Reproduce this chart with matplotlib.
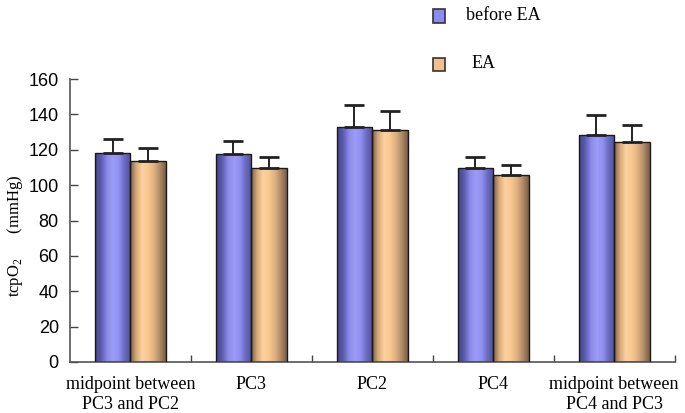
import numpy as np
import matplotlib
matplotlib.use("Agg")
import matplotlib.pyplot as plt
from matplotlib.colors import LinearSegmentedColormap
from matplotlib.patches import Rectangle

categories = ["midpoint between\nPC3 and PC2", "PC3", "PC2", "PC4",
              "midpoint between\nPC4 and PC3"]
before_ea = [118, 117.5, 133, 109.5, 128.5]
before_err = [8, 7.5, 12.5, 6.5, 11]
ea = [113.5, 109.5, 131, 105.5, 124.5]
ea_err = [7.5, 6.5, 11, 6, 9.5]

plt.rcParams["font.family"] = ["Liberation Serif", "DejaVu Serif"]

blue_cmap = LinearSegmentedColormap.from_list(
    "blue", ["#44448a", "#5c5cb0", "#8a8ae8", "#9c9cf8", "#9090f0", "#6a6ac0", "#50509a"])
orange_cmap = LinearSegmentedColormap.from_list(
    "orange", ["#7a6248", "#d8aa78", "#fdd0a0", "#f8c890", "#e0b080", "#b08c68", "#7a5e46"])
grad = np.linspace(0, 1, 64).reshape(1, -1)


def gradient_bars(ax, xs, heights, width, cmap):
    for x, h in zip(xs, heights):
        rect = Rectangle((x - width / 2, 0), width, h, facecolor="none",
                         edgecolor="#1a1a1a", linewidth=1.0, zorder=3)
        ax.add_patch(rect)
        im = ax.imshow(grad, cmap=cmap, aspect="auto", zorder=2,
                       extent=(x - width / 2, x + width / 2, 0, h))
        im.set_clip_path(rect)


fig = plt.figure(figsize=(6.85, 4.13), dpi=100)
ax = fig.add_axes([0.102, 0.1235, 0.883, 0.685])

x = np.arange(len(categories))
w = 0.295
gradient_bars(ax, x - w / 2, before_ea, w, blue_cmap)
gradient_bars(ax, x + w / 2, ea, w, orange_cmap)
ax.errorbar(x - w / 2, before_ea, yerr=[np.zeros(5), before_err], fmt="none",
            ecolor="#222222", elinewidth=1.4, capsize=7, capthick=2, zorder=4)
ax.errorbar(x + w / 2, ea, yerr=[np.zeros(5), ea_err], fmt="none",
            ecolor="#222222", elinewidth=1.4, capsize=7, capthick=2, zorder=4)

ax.set_xlim(-0.5, len(categories) - 0.5)
ax.set_ylim(0, 160)
ax.set_yticks(range(0, 161, 20))
ax.tick_params(axis="y", direction="in", length=6, width=1, labelsize=13,
               color="#444444", pad=8)
for lab in ax.get_yticklabels():
    lab.set_family("Liberation Sans")
ax.set_xticks(np.arange(0.5, len(categories) - 0.4, 1))
ax.set_xticklabels([])
ax.tick_params(axis="x", direction="in", length=5, width=1, color="#444444")
for xi, lab in zip(x, categories):
    ax.text(xi, -8, lab, ha="center", va="top", fontsize=13,
            linespacing=1.2)

for s in ["top", "right"]:
    ax.spines[s].set_visible(False)
for s in ["left", "bottom"]:
    ax.spines[s].set_color("#555555")
    ax.spines[s].set_linewidth(1.2)

fig.text(0.022, 0.43, r"tcpO$_{\mathregular{2}}$      (mmHg)", rotation=90,
         ha="center", va="center", fontsize=12)

# legend
fig.patches.append(Rectangle((0.632, 0.945), 0.018, 0.032,
                             transform=fig.transFigure, facecolor="#8c8cf0",
                             edgecolor="#333333", linewidth=1.2))
fig.text(0.68, 0.962, "before EA", ha="left", va="center", fontsize=13)
fig.patches.append(Rectangle((0.632, 0.827), 0.018, 0.032,
                             transform=fig.transFigure, facecolor="#f0c090",
                             edgecolor="#333333", linewidth=1.2))
fig.text(0.688, 0.846, "EA", ha="left", va="center", fontsize=13)

fig.savefig("out.png", dpi=100)
